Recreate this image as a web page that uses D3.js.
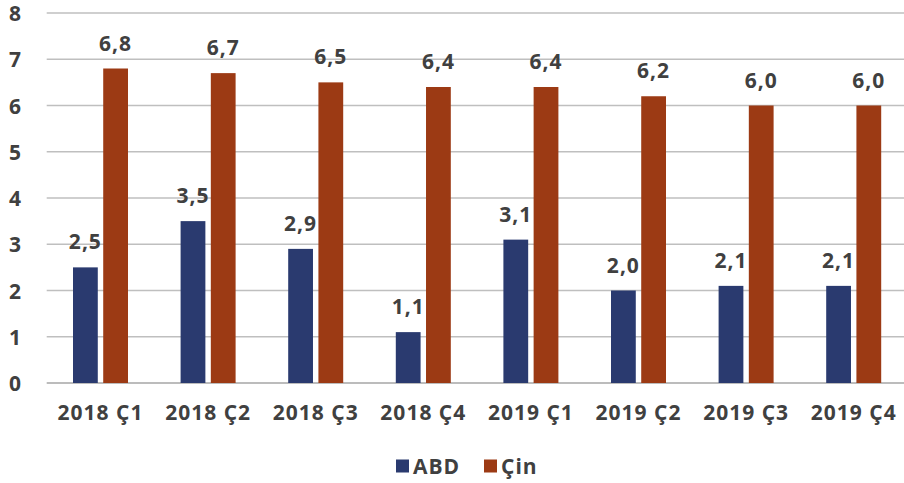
<!DOCTYPE html>
<html><head><meta charset="utf-8">
<script src="https://cdn.jsdelivr.net/npm/d3@7"></script>
<style>body{margin:0;background:#fff}svg{display:block}text{font-family:"Open Sans",sans-serif}</style>
</head><body><svg id="c" width="904" height="483"></svg>
<script>
const categories = ["2018 Ç1","2018 Ç2","2018 Ç3","2018 Ç4","2019 Ç1","2019 Ç2","2019 Ç3","2019 Ç4"];
const seriesNames = ["ABD","Çin"];
const abd = [2.5,3.5,2.9,1.1,3.1,2.0,2.1,2.1];
const cin = [6.8,6.7,6.5,6.4,6.4,6.2,6.0,6.0];
const yTicks = [0,1,2,3,4,5,6,7,8];
const colors = ["#2A3A6F","#9C3A14"];

(function(){
const svg = d3.select("#c");
const mLeft = 46.7, mRight = 907.5, mTop = 13, mBottom = 383;
const fs = 21, ls = 1, txt = "#404040";
const x = d3.scaleBand().domain(categories).range([mLeft,mRight]).paddingInner(0).paddingOuter(0);
const y = d3.scaleLinear().domain([0,8]).range([mBottom,mTop]);
const inner = d3.scaleBand().domain(seriesNames).range([x.bandwidth()/2-27.5, x.bandwidth()/2+27.5]).paddingInner(0.18);

svg.append("g").selectAll("line").data(yTicks).join("line")
  .attr("x1",mLeft).attr("x2",904).attr("y1",d=>y(d)).attr("y2",d=>y(d))
  .attr("stroke",d=>d===0?"#a6a6a6":"#bfbfbf").attr("stroke-width",1.5);

const yAxis = d3.axisLeft(y).tickValues(yTicks).tickSize(0).tickPadding(0).tickFormat(d3.format("d"));
const ya = svg.append("g").attr("transform","translate(22,0)").call(yAxis);
ya.select(".domain").remove();
ya.selectAll("text").attr("font-size",fs).attr("fill",txt).attr("font-weight",700).attr("letter-spacing",ls)
  .attr("text-anchor","end").attr("dy","0.36em");

const xAxis = d3.axisBottom(x).tickSize(0).tickPadding(0);
const xa = svg.append("g").attr("transform","translate(0,420)").call(xAxis);
xa.select(".domain").remove();
xa.selectAll("text").attr("font-size",fs).attr("fill",txt).attr("font-weight",700).attr("letter-spacing",ls)
  .attr("y",0).attr("dy",0);

const data = categories.map((c,i)=>({c, vals:[{s:"ABD",v:abd[i]},{s:"Çin",v:cin[i]}]}));
const fmt = v => d3.format(".1f")(v).replace(".",",");

const g = svg.append("g").selectAll("g").data(data).join("g").attr("transform",d=>`translate(${x(d.c)},0)`);
g.selectAll("rect").data(d=>d.vals).join("rect")
  .attr("x",d=>inner(d.s)).attr("width",inner.bandwidth())
  .attr("y",d=>y(d.v)).attr("height",d=>y(0)-y(d.v))
  .attr("fill",(d,i)=>colors[i]);
g.selectAll("text").data(d=>d.vals).join("text")
  .attr("x",d=>inner(d.s)+inner.bandwidth()/2).attr("y",d=>y(d.v)-18)
  .attr("text-anchor","middle").attr("font-size",fs).attr("font-weight",700).attr("letter-spacing",ls).attr("fill",txt)
  .text(d=>fmt(d.v));

const legend = svg.append("g").attr("transform","translate(0,466)");
const lx = [396, 484];
seriesNames.forEach((s,i)=>{
  legend.append("rect").attr("x",lx[i]).attr("y",-6.5).attr("width",13).attr("height",13).attr("fill",colors[i]);
  legend.append("text").attr("x",lx[i]+17).attr("y",0).attr("dy","0.36em").attr("font-size",fs).attr("font-weight",700)
    .attr("letter-spacing",ls).attr("fill",txt).text(s);
});
})();
</script></body></html>
